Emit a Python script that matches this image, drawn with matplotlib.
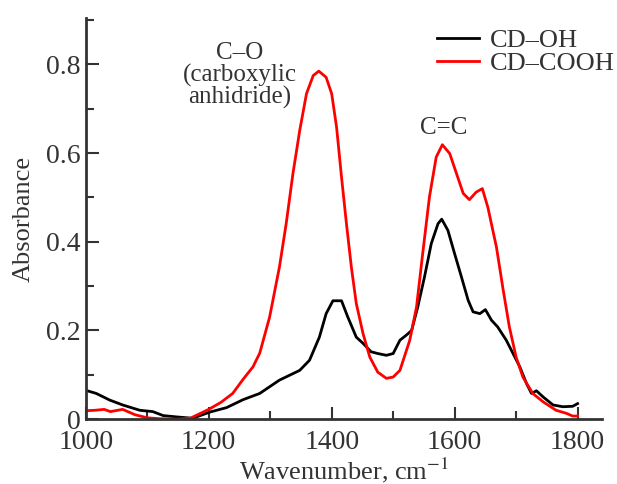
import matplotlib
matplotlib.use("Agg")
import matplotlib.pyplot as plt
from matplotlib.ticker import MultipleLocator

plt.rcParams['font.family'] = ['Liberation Serif', 'DejaVu Serif']
plt.rcParams['mathtext.fontset'] = 'stix'

TEXT = '#333333'

# CD-OH spectrum (black)
oh_x = [1000, 1017, 1039, 1060, 1088, 1109, 1126, 1148, 1174, 1202, 1229, 1256,
        1283, 1299, 1315, 1348, 1364, 1380, 1391, 1402, 1416, 1426, 1440, 1451,
        1464, 1475, 1489, 1500, 1511, 1521, 1530, 1540, 1551, 1562, 1573, 1579,
        1589, 1600, 1611, 1622, 1630, 1641, 1650, 1660, 1670, 1684, 1695, 1706,
        1717, 1725, 1733, 1744, 1760, 1776, 1792, 1800]
oh_y = [0.065, 0.058, 0.043, 0.032, 0.020, 0.017, 0.008, 0.005, 0.002, 0.016,
        0.026, 0.044, 0.058, 0.073, 0.088, 0.110, 0.133, 0.185, 0.238, 0.267,
        0.267, 0.231, 0.185, 0.171, 0.152, 0.148, 0.144, 0.148, 0.178, 0.189,
        0.200, 0.253, 0.321, 0.396, 0.441, 0.451, 0.426, 0.373, 0.321, 0.268,
        0.242, 0.238, 0.247, 0.223, 0.208, 0.178, 0.148, 0.118, 0.080, 0.058,
        0.064, 0.050, 0.032, 0.028, 0.029, 0.035]

# CD-COOH spectrum (red)
cooh_x = [1000, 1015, 1030, 1040, 1060, 1080, 1100, 1120, 1150, 1170, 1200,
          1220, 1239, 1256, 1272, 1283, 1299, 1315, 1326, 1337, 1348, 1359,
          1370, 1379, 1391, 1400, 1408, 1416, 1424, 1432, 1440, 1451, 1462,
          1475, 1489, 1500, 1511, 1527, 1538, 1548, 1559, 1570, 1580, 1592,
          1603, 1614, 1624, 1635, 1645, 1654, 1668, 1679, 1689, 1700, 1711,
          1727, 1744, 1765, 1782, 1792, 1800]
cooh_y = [0.019, 0.020, 0.022, 0.017, 0.022, 0.010, 0.003, 0.001, 0.000, 0.002,
          0.022, 0.038, 0.058, 0.090, 0.118, 0.149, 0.230, 0.343, 0.441, 0.554,
          0.651, 0.734, 0.775, 0.785, 0.771, 0.734, 0.658, 0.546, 0.441, 0.343,
          0.261, 0.193, 0.140, 0.106, 0.092, 0.095, 0.110, 0.178, 0.253, 0.373,
          0.501, 0.591, 0.619, 0.599, 0.554, 0.509, 0.495, 0.512, 0.520, 0.478,
          0.388, 0.291, 0.208, 0.140, 0.095, 0.058, 0.039, 0.020, 0.013, 0.007,
          0.007]

x_ticks = [1000, 1200, 1400, 1600, 1800]
y_ticks = [0, 0.2, 0.4, 0.6, 0.8]
y_tick_labels = ['0', '0.2', '0.4', '0.6', '0.8']

fig = plt.figure(figsize=(6.17, 4.84), dpi=100)
ax = fig.add_axes([0.139, 0.134, 0.837, 0.829])

ax.plot(oh_x, oh_y, color='black', lw=2, label='CD–OH')
ax.plot(cooh_x, cooh_y, color='#ff0000', lw=2, label='CD–COOH')

ax.set_xlim(1000, 1840)
ax.set_ylim(0, 0.905)
ax.set_xticks(x_ticks)
ax.set_yticks(y_ticks)
ax.set_yticklabels(y_tick_labels)
ax.xaxis.set_minor_locator(MultipleLocator(100))
ax.yaxis.set_minor_locator(MultipleLocator(0.1))
ax.tick_params(which='both', direction='in', width=1.5, colors=TEXT,
               labelsize=20, top=False, right=False)
ax.tick_params(which='major', length=9)
ax.tick_params(which='minor', length=6)
ax.tick_params(axis='x', pad=8)

for side in ['top', 'right']:
    ax.spines[side].set_visible(False)
for side in ['left', 'bottom']:
    ax.spines[side].set_linewidth(2)
    ax.spines[side].set_color(TEXT)

ax.set_xlabel('Wavenumber, cm$^{-1}$', fontsize=19, color=TEXT, labelpad=0)
ax.set_ylabel('Absorbance', fontsize=19, color=TEXT, labelpad=8)

ax.text(1250, 0.775, 'C–O\n(carboxylic\nanhidride)', ha='center', va='center',
        fontsize=18, color=TEXT, linespacing=0.95)
ax.text(1582, 0.656, 'C=C', ha='center', va='center', fontsize=18, color=TEXT)

leg = ax.legend(loc='upper right', bbox_to_anchor=(1.045, 1.0), frameon=False,
                fontsize=19, handlelength=1.6, handletextpad=0.4,
                labelspacing=0.0, borderaxespad=0.0)
for t in leg.get_texts():
    t.set_color(TEXT)

fig.savefig('out.png', dpi=100)
plt.close(fig)
